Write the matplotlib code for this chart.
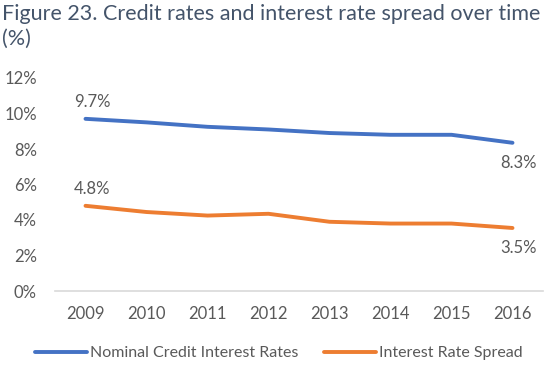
import matplotlib.pyplot as plt

plt.rcParams['font.family'] = ['Lato', 'DejaVu Sans']

years = ['2009', '2010', '2011', '2012', '2013', '2014', '2015', '2016']
nominal_rates = [9.7, 9.5, 9.25, 9.1, 8.9, 8.8, 8.8, 8.35]
rate_spread = [4.8, 4.45, 4.25, 4.35, 3.9, 3.8, 3.8, 3.55]
first_labels = ['9.7%', '4.8%']
last_labels = ['8.3%', '3.5%']

blue = '#4472C4'
orange = '#ED7D31'
grey = '#595959'

fig = plt.figure(figsize=(5.57, 3.69), dpi=100)
ax = fig.add_axes([55 / 557, 1 - 291 / 369, 488 / 557, 213 / 369])

x = list(range(len(years)))
ax.plot(x, nominal_rates, color=blue, lw=2.8, solid_capstyle='round',
        label='Nominal Credit Interest Rates')
ax.plot(x, rate_spread, color=orange, lw=2.8, solid_capstyle='round',
        label='Interest Rate Spread')

# data labels at both ends
for series, first, last in zip([nominal_rates, rate_spread], first_labels, last_labels):
    ax.annotate(first, (x[0], series[0]), xytext=(5, 6), textcoords='offset points',
                ha='center', va='bottom', fontsize=12, color=grey)
    ax.annotate(last, (x[-1], series[-1]), xytext=(4, -9), textcoords='offset points',
                ha='center', va='top', fontsize=12, color=grey)

ax.set_xlim(-0.5, len(years) - 0.5)
ax.set_ylim(0, 12)
ax.set_yticks(range(0, 13, 2))
ax.set_yticklabels([f'{v}%' for v in range(0, 13, 2)])
ax.set_xticks(x)
ax.set_xticklabels(years)
ax.tick_params(length=0, labelsize=12, colors=grey)
ax.tick_params(axis='x', pad=11)
ax.tick_params(axis='y', pad=13)
for s in ['top', 'right', 'left']:
    ax.spines[s].set_visible(False)
ax.spines['bottom'].set_color('#D9D9D9')
ax.spines['bottom'].set_linewidth(1.2)

fig.text(0.004, 0.99, 'Figure 23. Credit rates and interest rate spread over time\n(%)',
         ha='left', va='top', fontsize=15.5, color='#44546A', linespacing=1.3)

fig.legend(loc='center', bbox_to_anchor=(0.5, 1 - 353 / 369), ncol=2, frameon=False,
           fontsize=11.5, labelcolor=grey, handlelength=3.3, handletextpad=0.15,
           columnspacing=1.6)

fig.savefig('out.png', dpi=100)
